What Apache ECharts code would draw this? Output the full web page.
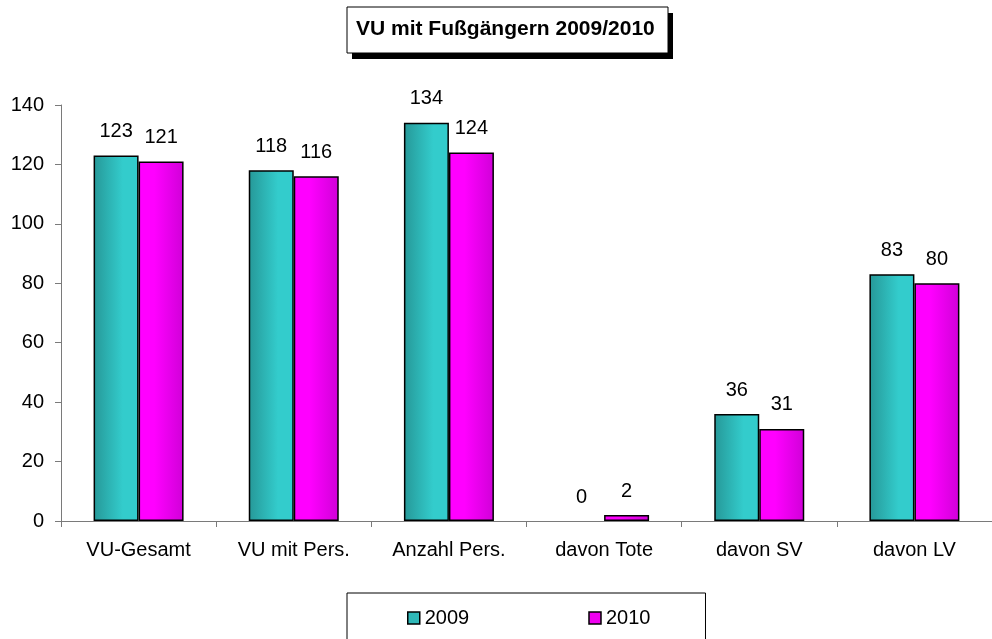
<!DOCTYPE html>
<html>
<head>
<meta charset="utf-8">
<script src="https://cdn.jsdelivr.net/npm/echarts@6/dist/echarts.min.js"></script>
<style>
  html, body { margin: 0; padding: 0; background: #fff; }
  #main { width: 992px; height: 639px; }
</style>
</head>
<body>
<div id="main"></div>
<script>
// Daten
const categories = ['VU-Gesamt', 'VU mit Pers.', 'Anzahl Pers.', 'davon Tote', 'davon SV', 'davon LV'];
const values2009 = [123, 118, 134, 0, 36, 83];
const values2010 = [121, 116, 124, 2, 31, 80];
const yTicks = { min: 0, max: 140, interval: 20 };

const font = 'Liberation Sans, Arial, sans-serif';

const tealGrad = new echarts.graphic.LinearGradient(0, 0, 1, 0, [
  { offset: 0, color: '#269898' },
  { offset: 0.65, color: '#33cccc' },
  { offset: 1, color: '#33cccc' }
]);
const magentaGrad = new echarts.graphic.LinearGradient(0, 0, 1, 0, [
  { offset: 0, color: '#ff00ff' },
  { offset: 0.35, color: '#ff00ff' },
  { offset: 1, color: '#d000d8' }
]);

// Balken mit Wert 0 ohne Rahmen zeichnen
function barData(vals) {
  return vals.map(v => v === 0 ? { value: v, itemStyle: { borderWidth: 0 } } : v);
}

const chart = echarts.init(document.getElementById('main'));

const option = {
  animation: false,
  backgroundColor: '#fff',
  graphic: [
    { type: 'rect', z: 0, shape: { x: 352, y: 13, width: 321, height: 46 }, style: { fill: '#000' } },
    { type: 'rect', z: 1, shape: { x: 347, y: 7, width: 321, height: 46 }, style: { fill: '#fff', stroke: '#000', lineWidth: 1 } }
  ],
  title: {
    text: 'VU mit Fußgängern 2009/2010',
    left: 347,
    top: 7,
    z: 10,
    padding: [12, 9, 12, 9],
    textStyle: { fontFamily: font, fontSize: 21, fontWeight: 'bold', color: '#000' }
  },
  legend: {
    left: 347,
    top: 593,
    padding: [15, 55, 40, 60],
    borderColor: '#000',
    borderWidth: 1,
    itemWidth: 12,
    itemHeight: 12,
    itemGap: 119,
    icon: 'rect',
    textStyle: { fontFamily: font, fontSize: 20, color: '#000' },
    data: [
      { name: '2009', itemStyle: { color: '#2fb8b8', borderColor: '#000', borderWidth: 1.5 } },
      { name: '2010', itemStyle: { color: '#f000f0', borderColor: '#000', borderWidth: 1.5 } }
    ]
  },
  grid: { left: 61, right: 0, top: 105, bottom: 118, containLabel: false },
  xAxis: {
    type: 'category',
    data: categories,
    axisLine: { lineStyle: { color: '#7a7a7a', width: 1 } },
    axisTick: { show: true, length: 6, alignWithLabel: false, lineStyle: { color: '#7a7a7a' } },
    axisLabel: { fontFamily: font, fontSize: 20, color: '#000', margin: 19, interval: 0 }
  },
  yAxis: {
    type: 'value',
    min: yTicks.min,
    max: yTicks.max,
    interval: yTicks.interval,
    axisLine: { show: true, lineStyle: { color: '#7a7a7a', width: 1 } },
    axisTick: { show: true, length: 6, lineStyle: { color: '#7a7a7a' } },
    splitLine: { show: false },
    axisLabel: { fontFamily: font, fontSize: 20, color: '#000', margin: 17 }
  },
  series: [
    {
      name: '2009',
      type: 'bar',
      data: barData(values2009),
      barWidth: 45,
      barGap: '0%',
      itemStyle: { color: tealGrad, borderColor: '#000', borderWidth: 1.5 },
      label: { show: true, position: 'top', distance: 14, fontFamily: font, fontSize: 20, color: '#000' }
    },
    {
      name: '2010',
      type: 'bar',
      data: barData(values2010),
      barWidth: 45,
      barGap: '0%',
      itemStyle: { color: magentaGrad, borderColor: '#000', borderWidth: 1.5 },
      label: { show: true, position: 'top', distance: 14, fontFamily: font, fontSize: 20, color: '#000' }
    }
  ]
};

chart.setOption(option);
</script>
</body>
</html>
